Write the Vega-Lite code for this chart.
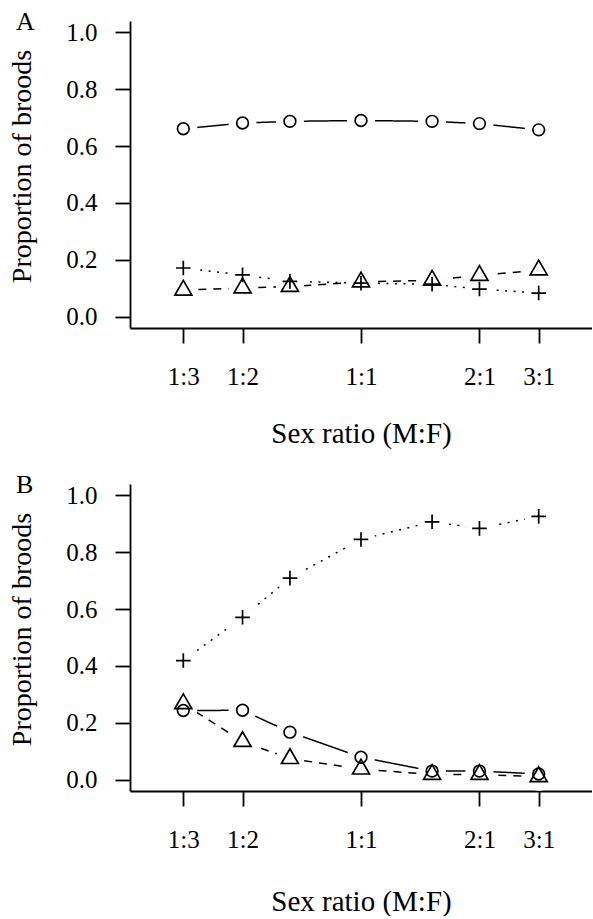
{
  "$schema": "https://vega.github.io/schema/vega-lite/v6.json",
  "padding": {"left": 8, "top": 8, "right": 0, "bottom": 0},
  "config": {
    "font": "Liberation Serif",
    "view": {"stroke": null},
    "axis": {"domainColor": "black", "domainWidth": 1.8, "tickColor": "black", "tickWidth": 1.8, "labelColor": "black", "titleColor": "black", "labelFont": "Liberation Serif", "titleFont": "Liberation Serif", "labelFontSize": 25, "titleFontSize": 28, "titleFontWeight": "normal", "grid": false, "zindex": 1, "labelOverlap": false, "labelFlush": false},
    "title": {"font": "Liberation Serif", "fontSize": 26, "fontWeight": "normal", "color": "black", "anchor": "start", "frame": "group"},
    "concat": {"spacing": 23}
  },
  "data": {"values": [
    {"panel": "A", "series": "circle", "male": 0.25, "prop": 0.661},
    {"panel": "A", "series": "circle", "male": 0.3333333, "prop": 0.681},
    {"panel": "A", "series": "circle", "male": 0.4, "prop": 0.687},
    {"panel": "A", "series": "circle", "male": 0.5, "prop": 0.690},
    {"panel": "A", "series": "circle", "male": 0.6, "prop": 0.687},
    {"panel": "A", "series": "circle", "male": 0.6666667, "prop": 0.679},
    {"panel": "A", "series": "circle", "male": 0.75, "prop": 0.657},
    {"panel": "A", "series": "plus", "male": 0.25, "prop": 0.171},
    {"panel": "A", "series": "plus", "male": 0.3333333, "prop": 0.147},
    {"panel": "A", "series": "plus", "male": 0.4, "prop": 0.124},
    {"panel": "A", "series": "plus", "male": 0.5, "prop": 0.118},
    {"panel": "A", "series": "plus", "male": 0.6, "prop": 0.114},
    {"panel": "A", "series": "plus", "male": 0.6666667, "prop": 0.097},
    {"panel": "A", "series": "plus", "male": 0.75, "prop": 0.083},
    {"panel": "A", "series": "triangle", "male": 0.25, "prop": 0.093},
    {"panel": "A", "series": "triangle", "male": 0.3333333, "prop": 0.101},
    {"panel": "A", "series": "triangle", "male": 0.4, "prop": 0.106},
    {"panel": "A", "series": "triangle", "male": 0.5, "prop": 0.122},
    {"panel": "A", "series": "triangle", "male": 0.6, "prop": 0.128},
    {"panel": "A", "series": "triangle", "male": 0.6666667, "prop": 0.145},
    {"panel": "A", "series": "triangle", "male": 0.75, "prop": 0.164},
    {"panel": "B", "series": "circle", "male": 0.25, "prop": 0.243},
    {"panel": "B", "series": "circle", "male": 0.3333333, "prop": 0.244},
    {"panel": "B", "series": "circle", "male": 0.4, "prop": 0.167},
    {"panel": "B", "series": "circle", "male": 0.5, "prop": 0.079},
    {"panel": "B", "series": "circle", "male": 0.6, "prop": 0.030},
    {"panel": "B", "series": "circle", "male": 0.6666667, "prop": 0.030},
    {"panel": "B", "series": "circle", "male": 0.75, "prop": 0.020},
    {"panel": "B", "series": "plus", "male": 0.25, "prop": 0.419},
    {"panel": "B", "series": "plus", "male": 0.3333333, "prop": 0.571},
    {"panel": "B", "series": "plus", "male": 0.4, "prop": 0.709},
    {"panel": "B", "series": "plus", "male": 0.5, "prop": 0.845},
    {"panel": "B", "series": "plus", "male": 0.6, "prop": 0.907},
    {"panel": "B", "series": "plus", "male": 0.6666667, "prop": 0.884},
    {"panel": "B", "series": "plus", "male": 0.75, "prop": 0.926},
    {"panel": "B", "series": "triangle", "male": 0.25, "prop": 0.267},
    {"panel": "B", "series": "triangle", "male": 0.3333333, "prop": 0.134},
    {"panel": "B", "series": "triangle", "male": 0.4, "prop": 0.074},
    {"panel": "B", "series": "triangle", "male": 0.5, "prop": 0.037},
    {"panel": "B", "series": "triangle", "male": 0.6, "prop": 0.018},
    {"panel": "B", "series": "triangle", "male": 0.6666667, "prop": 0.018},
    {"panel": "B", "series": "triangle", "male": 0.75, "prop": 0.010}
  ]},
  "vconcat": [
    {
      "title": {"text": "A", "dx": -114, "offset": -35.6, "baseline": "alphabetic", "fontSize": 26},
      "width": 462, "height": 307,
      "transform": [{"filter": "datum.panel === 'A'"}],
      "encoding": {
        "x": {"field": "male", "type": "quantitative", "scale": {"domain": [0.175, 0.825], "nice": false, "zero": false},
          "axis": {"values": [0.25, 0.3333333, 0.5, 0.6666667, 0.75], "labelExpr": "datum.value < 0.3 ? '1:3' : datum.value < 0.4 ? '1:2' : datum.value < 0.6 ? '1:1' : datum.value < 0.7 ? '2:1' : '3:1'", "tickSize": 15, "labelPadding": 21, "titlePadding": 30, "title": "Sex ratio (M:F)", "titleFontSize": 29}},
        "y": {"field": "prop", "type": "quantitative", "scale": {"domain": [-0.04, 1.04], "nice": false, "zero": false},
          "axis": {"values": [0, 0.2, 0.4, 0.6, 0.8, 1], "format": ".1f", "tickSize": 15, "labelPadding": 18, "titlePadding": 29, "title": "Proportion of broods", "titleY": 145}}
      },
      "layer": [
        {"mark": {"type": "line", "color": "black", "strokeWidth": 1.5},
         "encoding": {"detail": {"field": "series"}, "strokeDash": {"field": "series", "type": "nominal", "scale": {"domain": ["circle", "plus", "triangle"], "range": [[1, 0], [2, 6.5], [8, 7]]}, "legend": null}}},
        {"mark": {"type": "point", "filled": true, "color": "white", "strokeWidth": 0, "shape": "circle", "size": 784, "opacity": 1}},
        {"mark": {"type": "point", "filled": false, "color": "black", "strokeWidth": 1.7, "opacity": 1},
         "encoding": {
           "shape": {"field": "series", "type": "nominal", "scale": {"domain": ["circle", "plus", "triangle"], "range": ["circle", "M-1,0H1M0,-1V1", "M0,-1.155L1,0.577L-1,0.577Z"]}, "legend": null},
           "size": {"field": "series", "type": "ordinal", "scale": {"domain": ["circle", "plus", "triangle"], "range": [137, 289, 225]}, "legend": null}}}
      ]
    },
    {
      "title": {"text": "B", "dx": -114, "offset": -35.6, "baseline": "alphabetic", "fontSize": 26},
      "width": 462, "height": 307,
      "transform": [{"filter": "datum.panel === 'B'"}],
      "encoding": {
        "x": {"field": "male", "type": "quantitative", "scale": {"domain": [0.175, 0.825], "nice": false, "zero": false},
          "axis": {"values": [0.25, 0.3333333, 0.5, 0.6666667, 0.75], "labelExpr": "datum.value < 0.3 ? '1:3' : datum.value < 0.4 ? '1:2' : datum.value < 0.6 ? '1:1' : datum.value < 0.7 ? '2:1' : '3:1'", "tickSize": 15, "labelPadding": 21, "titlePadding": 35, "title": "Sex ratio (M:F)", "titleFontSize": 29}},
        "y": {"field": "prop", "type": "quantitative", "scale": {"domain": [-0.04, 1.04], "nice": false, "zero": false},
          "axis": {"values": [0, 0.2, 0.4, 0.6, 0.8, 1], "format": ".1f", "tickSize": 15, "labelPadding": 18, "titlePadding": 29, "title": "Proportion of broods", "titleY": 145}}
      },
      "layer": [
        {"mark": {"type": "line", "color": "black", "strokeWidth": 1.5},
         "encoding": {"detail": {"field": "series"}, "strokeDash": {"field": "series", "type": "nominal", "scale": {"domain": ["circle", "plus", "triangle"], "range": [[1, 0], [2, 6.5], [8, 7]]}, "legend": null}}},
        {"mark": {"type": "point", "filled": true, "color": "white", "strokeWidth": 0, "shape": "circle", "size": 784, "opacity": 1}},
        {"mark": {"type": "point", "filled": false, "color": "black", "strokeWidth": 1.7, "opacity": 1},
         "encoding": {
           "shape": {"field": "series", "type": "nominal", "scale": {"domain": ["circle", "plus", "triangle"], "range": ["circle", "M-1,0H1M0,-1V1", "M0,-1.155L1,0.577L-1,0.577Z"]}, "legend": null},
           "size": {"field": "series", "type": "ordinal", "scale": {"domain": ["circle", "plus", "triangle"], "range": [137, 289, 225]}, "legend": null}}}
      ]
    }
  ]
}
